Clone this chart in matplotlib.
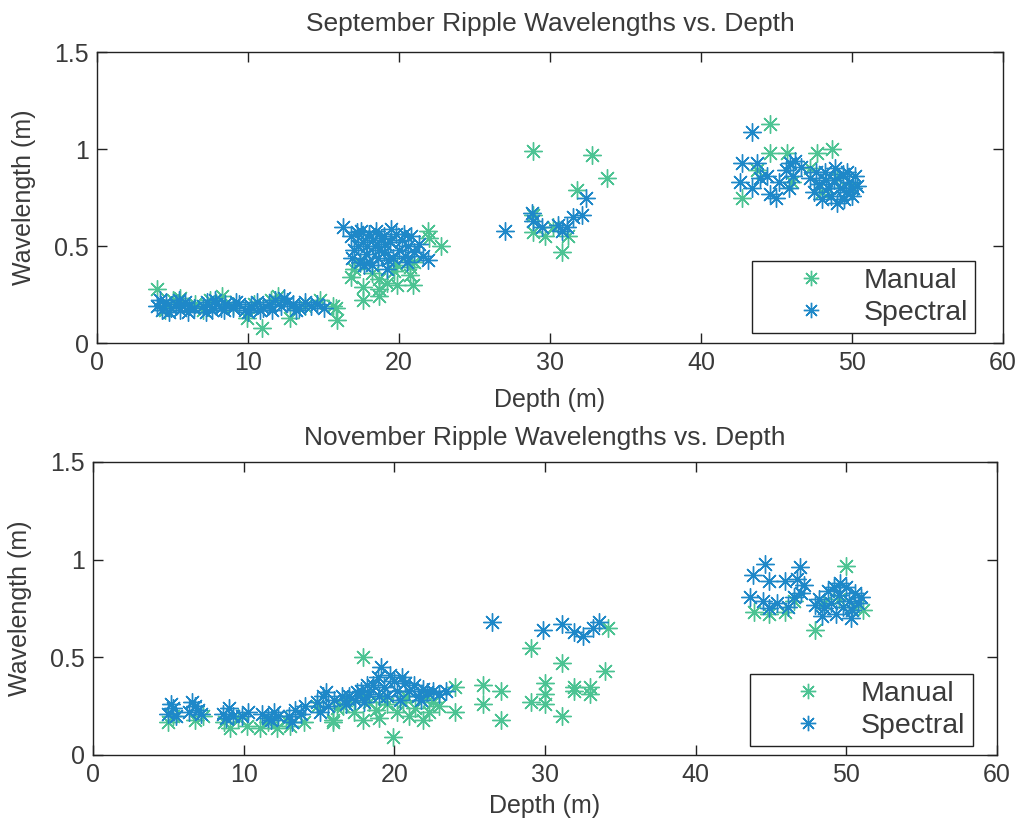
import matplotlib
matplotlib.use("Agg")
import matplotlib.pyplot as plt

MANUAL_COLOR = "#4cc393"
SPECTRAL_COLOR = "#1e88c8"

# September: (depth m, wavelength m)
sep_manual = [
    (4.0, 0.28), (4.5, 0.17), (5.5, 0.23), (6.5, 0.20), (7.5, 0.22), (8.3, 0.24),
    (9.9, 0.13), (10.9, 0.08), (10.4, 0.20), (11.5, 0.22), (12.0, 0.24), (12.8, 0.13),
    (13.8, 0.19), (14.8, 0.22), (15.6, 0.19), (15.9, 0.12), (15.8, 0.18), (5.0, 0.22),
    (7.0, 0.17), (9.0, 0.19),
    (21.9, 0.58), (22.0, 0.54), (22.8, 0.50), (16.8, 0.34), (17.6, 0.29), (18.7, 0.28),
    (19.9, 0.30), (20.9, 0.30), (20.7, 0.35), (19.7, 0.37), (18.7, 0.33), (18.7, 0.24),
    (17.6, 0.22), (19.9, 0.40), (20.7, 0.39), (17.4, 0.41), (17.0, 0.38), (18.2, 0.36),
    (21.0, 0.42), (19.2, 0.31),
    (28.9, 0.99), (32.8, 0.97), (33.8, 0.85), (31.8, 0.79), (28.9, 0.66), (28.9, 0.57),
    (29.7, 0.55), (30.8, 0.47), (31.2, 0.55), (30.2, 0.60),
    (44.6, 1.13), (44.6, 0.98), (45.7, 0.98), (47.7, 0.98), (48.7, 1.00), (42.7, 0.75),
    (43.7, 0.89), (46.0, 0.83), (48.0, 0.78), (50.0, 0.80), (49.0, 0.85), (47.2, 0.90),
]
sep_spectral = [
    (4.0, 0.19), (4.3, 0.17), (4.6, 0.21), (4.9, 0.18), (5.2, 0.20), (5.5, 0.17),
    (5.8, 0.21), (6.1, 0.19), (6.4, 0.18), (4.2, 0.22), (4.8, 0.16), (5.4, 0.22),
    (6.0, 0.16), (7.0, 0.19), (7.3, 0.21), (7.6, 0.17), (7.9, 0.20), (8.2, 0.18),
    (8.5, 0.20), (7.2, 0.16), (7.8, 0.22), (8.4, 0.17), (9.0, 0.18), (9.4, 0.20),
    (9.8, 0.17), (10.2, 0.19), (10.6, 0.21), (11.0, 0.18), (11.4, 0.20), (11.8, 0.22),
    (12.2, 0.19), (12.6, 0.21), (13.0, 0.20), (13.4, 0.18), (13.8, 0.21), (9.2, 0.21),
    (10.0, 0.16), (10.8, 0.17), (11.6, 0.17), (12.4, 0.23), (13.2, 0.17), (14.2, 0.19),
    (14.6, 0.20), (15.0, 0.18),
    (16.3, 0.60), (16.8, 0.55), (17.0, 0.48), (17.2, 0.57), (17.4, 0.42), (17.6, 0.52),
    (17.8, 0.46), (18.0, 0.56), (18.2, 0.40), (18.4, 0.50), (18.6, 0.44), (18.8, 0.54),
    (19.0, 0.47), (19.2, 0.38), (19.4, 0.52), (19.6, 0.44), (19.8, 0.56), (20.0, 0.48),
    (20.2, 0.53), (20.4, 0.45), (20.6, 0.50), (20.8, 0.55), (21.0, 0.47), (21.3, 0.51),
    (21.6, 0.45), (21.9, 0.43), (17.5, 0.58), (18.5, 0.58), (19.5, 0.59), (18.0, 0.42),
    (19.0, 0.55), (17.9, 0.50), (18.7, 0.48), (19.3, 0.43), (20.3, 0.56), (16.9, 0.44),
    (17.7, 0.40), (18.3, 0.53), (19.1, 0.51), (17.3, 0.50), (20.5, 0.42),
    (27.0, 0.58), (28.8, 0.67), (28.9, 0.63), (29.5, 0.60), (30.5, 0.61), (30.8, 0.58),
    (31.1, 0.60), (31.5, 0.65), (32.1, 0.66), (32.4, 0.75),
    (43.4, 1.09), (42.7, 0.93), (42.6, 0.83), (43.7, 0.93), (43.4, 0.80), (44.4, 0.86),
    (44.6, 0.77), (45.0, 0.75), (45.6, 0.89), (45.9, 0.93), (46.2, 0.94), (46.1, 0.86),
    (45.8, 0.80), (46.6, 0.91), (43.9, 0.85), (45.2, 0.83),
    (47.2, 0.85), (47.5, 0.78), (47.8, 0.82), (48.0, 0.74), (48.2, 0.88), (48.4, 0.80),
    (48.6, 0.76), (48.8, 0.84), (49.0, 0.72), (49.2, 0.80), (49.4, 0.87), (49.6, 0.78),
    (49.8, 0.83), (50.0, 0.76), (50.2, 0.86), (50.3, 0.81), (47.6, 0.88), (48.9, 0.90),
    (49.5, 0.74), (50.1, 0.80), (48.3, 0.84), (49.7, 0.88),
]

# November: (depth m, wavelength m)
nov_manual = [
    (5.0, 0.17), (5.3, 0.20), (6.8, 0.18), (7.3, 0.20), (9.1, 0.14), (10.2, 0.15),
    (11.1, 0.14), (12.2, 0.14), (13.1, 0.15), (8.7, 0.17), (11.6, 0.17), (14.0, 0.17),
    (14.9, 0.25), (15.9, 0.17), (9.6, 0.19), (12.8, 0.18),
    (17.9, 0.50), (24.0, 0.35), (24.0, 0.22), (19.9, 0.09), (17.9, 0.18), (21.9, 0.18),
    (23.0, 0.25), (15.9, 0.18), (19.0, 0.19), (21.0, 0.20), (16.6, 0.25), (17.3, 0.22),
    (18.3, 0.27), (18.8, 0.23), (19.5, 0.26), (20.2, 0.22), (20.6, 0.27), (21.4, 0.24),
    (22.3, 0.22), (22.6, 0.27), (18.0, 0.30), (19.3, 0.29), (20.8, 0.30), (22.0, 0.29),
    (16.2, 0.24), (17.0, 0.28),
    (25.9, 0.36), (25.9, 0.26), (27.1, 0.33), (27.1, 0.18), (29.1, 0.55), (31.1, 0.47),
    (34.0, 0.43), (30.0, 0.37), (30.0, 0.31), (29.1, 0.27), (30.0, 0.26), (31.1, 0.20),
    (31.9, 0.35), (31.9, 0.33), (33.0, 0.35), (33.0, 0.31), (34.2, 0.65),
    (50.0, 0.97), (43.9, 0.73), (44.9, 0.72), (45.9, 0.73), (47.9, 0.64), (51.1, 0.74),
    (48.5, 0.78), (50.5, 0.76), (46.5, 0.79), (49.5, 0.80),
]
nov_spectral = [
    (5.0, 0.21), (5.3, 0.24), (5.5, 0.20), (5.2, 0.26), (6.4, 0.22), (6.8, 0.25),
    (7.2, 0.21), (6.6, 0.27), (7.0, 0.23), (8.6, 0.21), (9.0, 0.24), (9.3, 0.20),
    (8.8, 0.19), (9.9, 0.20), (10.3, 0.22), (11.2, 0.21), (11.6, 0.19), (12.0, 0.22),
    (11.8, 0.18), (12.3, 0.20), (13.0, 0.20), (13.4, 0.23), (13.8, 0.21), (14.1, 0.25),
    (13.2, 0.17), (14.9, 0.27), (15.3, 0.30), (15.6, 0.25), (15.5, 0.32), (16.0, 0.28),
    (15.1, 0.22),
    (16.8, 0.26), (17.0, 0.30), (17.4, 0.28), (17.8, 0.33), (18.0, 0.27), (18.3, 0.31),
    (18.6, 0.36), (18.9, 0.40), (19.1, 0.45), (19.3, 0.35), (19.5, 0.30), (19.7, 0.41),
    (20.0, 0.38), (20.2, 0.33), (20.4, 0.28), (20.7, 0.37), (21.0, 0.33), (21.3, 0.36),
    (21.6, 0.30), (21.9, 0.34), (22.2, 0.32), (22.6, 0.33), (23.0, 0.31), (23.4, 0.33),
    (18.2, 0.36), (17.5, 0.32), (20.5, 0.40), (19.0, 0.30), (21.8, 0.28), (16.5, 0.30),
    (26.5, 0.68), (29.9, 0.64), (31.1, 0.67), (31.9, 0.63), (32.5, 0.61), (33.2, 0.65),
    (33.6, 0.68),
    (44.6, 0.98), (46.9, 0.96), (43.8, 0.92), (44.9, 0.89), (45.9, 0.89), (46.7, 0.90),
    (47.2, 0.87), (43.6, 0.81), (44.5, 0.79), (45.4, 0.78), (46.1, 0.76), (44.9, 0.75),
    (47.0, 0.83), (46.5, 0.81),
    (48.2, 0.80), (48.5, 0.75), (48.8, 0.84), (49.0, 0.78), (49.3, 0.72), (49.5, 0.82),
    (49.8, 0.76), (50.0, 0.86), (50.2, 0.79), (50.4, 0.74), (50.6, 0.83), (50.8, 0.78),
    (51.0, 0.81), (48.4, 0.71), (49.6, 0.88), (50.3, 0.70), (47.9, 0.77), (49.2, 0.86),
]

titles = ["September Ripple Wavelengths vs. Depth", "November Ripple Wavelengths vs. Depth"]
series_labels = ["Manual", "Spectral"]
x_ticks = [0, 10, 20, 30, 40, 50, 60]
y_ticks = [0, 0.5, 1, 1.5]
y_tick_labels = ["0", "0.5", "1", "1.5"]

plt.rcParams["font.family"] = ["Liberation Sans Narrow", "Liberation Sans", "DejaVu Sans"]
TEXT = "#3a3a3a"

fig = plt.figure(figsize=(10.17, 8.3), dpi=100)
ax_top = fig.add_axes([0.0954, 0.5867, 0.8908, 0.3506])
ax_bot = fig.add_axes([0.0914, 0.0904, 0.8889, 0.3530])

star = (8, 2, 0)
# axes, manual, spectral, title, legend anchor, title pad, xlabel pad
panels = [
    (ax_top, sep_manual, sep_spectral, titles[0], (0.969, 0.034), 15, 9),
    (ax_bot, nov_manual, nov_spectral, titles[1], (0.973, 0.031), 12, 5),
]
for ax, manual, spectral, title, anchor, tpad, xpad in panels:
    mx, my = zip(*manual)
    sx, sy = zip(*spectral)
    ax.plot(mx, my, linestyle="none", marker=star, ms=13, mew=1.0,
            color=MANUAL_COLOR, label=series_labels[0])
    ax.plot(sx, sy, linestyle="none", marker=star, ms=13, mew=1.0,
            color=SPECTRAL_COLOR, label=series_labels[1])
    ax.set_xlim(0, 60)
    ax.set_ylim(0, 1.5)
    ax.set_xticks(x_ticks)
    ax.set_yticks(y_ticks)
    ax.set_yticklabels(y_tick_labels)
    ax.tick_params(direction="in", top=True, right=True, length=7, width=1,
                   colors="#222222", labelcolor=TEXT, labelsize=18, pad=6)
    for sp in ax.spines.values():
        sp.set_linewidth(1.0)
        sp.set_color("#222222")
    ax.set_xlabel("Depth (m)", color=TEXT, fontsize=18, labelpad=xpad)
    ax.set_ylabel("Wavelength (m)", color=TEXT, fontsize=18, labelpad=13)
    ax.set_title(title, color=TEXT, fontsize=19, pad=tpad)
    leg = ax.legend(loc="lower right", bbox_to_anchor=anchor, fancybox=False,
                    framealpha=1, edgecolor="#222222", borderpad=0.25,
                    handlelength=3.6, handletextpad=0.05, borderaxespad=0,
                    labelspacing=0.2, fontsize=20.5, markerscale=0.85)
    leg.get_frame().set_linewidth(1.0)
    for t in leg.get_texts():
        t.set_color(TEXT)

fig.savefig("out.png", dpi=100, facecolor="white")
